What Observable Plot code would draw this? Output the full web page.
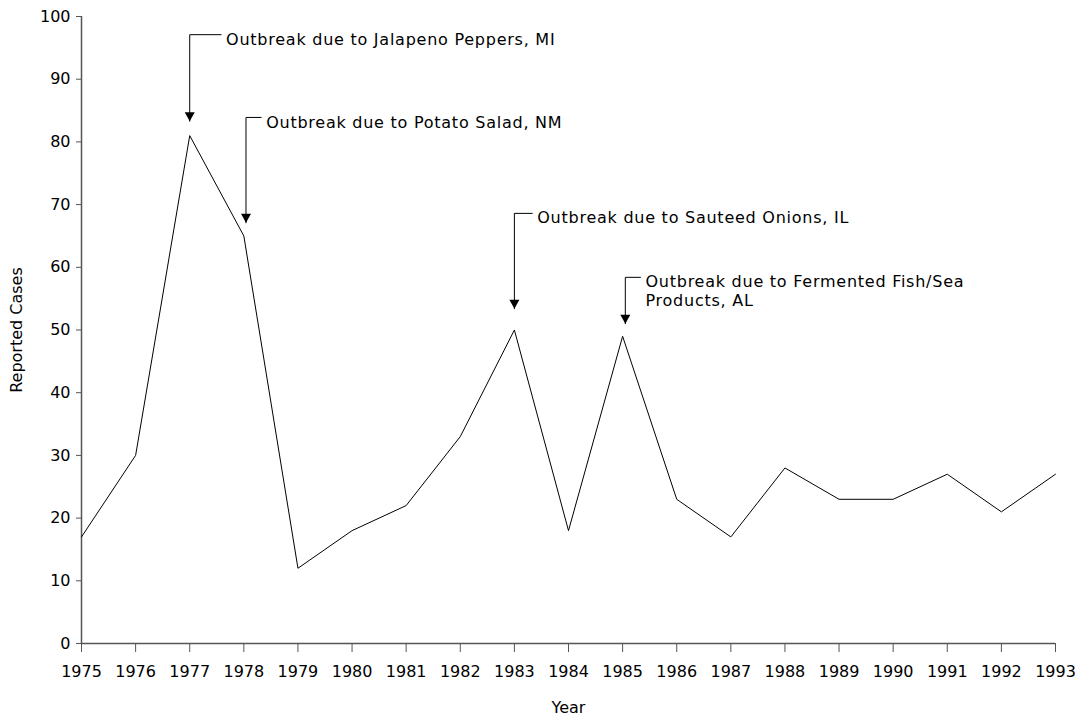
<!DOCTYPE html>
<html>
<head>
<meta charset="utf-8">
<script src="https://cdn.jsdelivr.net/npm/d3@7"></script>
<script src="https://cdn.jsdelivr.net/npm/@observablehq/plot@0.6"></script>
<style>
  html, body { margin: 0; padding: 0; background: #fff; }
  #chart { width: 1081px; height: 719px; }
  #chart g[aria-label="text"] { letter-spacing: 0.75px; }
</style>
</head>
<body>
<div id="chart"></div>
<script>
// Data
const years = [1975,1976,1977,1978,1979,1980,1981,1982,1983,1984,1985,1986,1987,1988,1989,1990,1991,1992,1993];
const cases = [17,30,81,65,12,18,22,33,50,18,49,23,17,28,23,23,27,21,27];
const yTicks = [0,10,20,30,40,50,60,70,80,90,100];

// Annotations
const annYear  = [1977, 1978.04, 1983, 1985.05];
const annElbow = [97.1, 83.9, 68.6, 58.4];
const annTip   = [83.3, 67.1, 53.4, 51.0];
const annEnd   = [1977.58, 1978.32, 1983.33, 1985.33];
const annLabel = [
  "Outbreak due to Jalapeno Peppers, MI",
  "Outbreak due to Potato Salad, NM",
  "Outbreak due to Sauteed Onions, IL",
  "Outbreak due to Fermented Fish/Sea\nProducts, AL"
];

const series = years.map((y, i) => ({year: y, cases: cases[i]}));
const ann = annYear.map((y, i) => ({year: y, elbow: annElbow[i], tip: annTip[i], end: annEnd[i], label: annLabel[i]}));
const leaders = ann.flatMap((a, i) => [
  {k: i, x: a.end, y: a.elbow},
  {k: i, x: a.year, y: a.elbow},
  {k: i, x: a.year, y: a.tip}
]);

const downTriangle = {
  draw(ctx) {
    ctx.moveTo(0, 0);
    ctx.lineTo(-5, -9);
    ctx.lineTo(5, -9);
    ctx.closePath();
  }
};

const axisColor = "#555";

const chart = Plot.plot({
  width: 1081,
  height: 719,
  marginLeft: 81,
  marginRight: 26,
  marginTop: 16,
  marginBottom: 76,
  style: {fontFamily: "DejaVu Sans", fontSize: "16px", color: "#000", background: "#fff"},
  x: {domain: [1975, 1993]},
  y: {domain: [0, 100]},
  marks: [
    Plot.axisX({ticks: years, tickFormat: d => String(d), tickSize: 9, tickPadding: 13, stroke: axisColor, fill: "#000", label: "Year", labelAnchor: "center", labelOffset: 69, labelArrow: "none", fontSize: 16}),
    Plot.axisY({ticks: yTicks, tickSize: 5, tickPadding: 6, stroke: axisColor, fill: "#000", label: "Reported Cases", labelAnchor: "center", labelOffset: 71, labelArrow: "none", fontSize: 16}),
    Plot.ruleY([0], {x1: 1975, x2: 1993, stroke: axisColor, strokeWidth: 1.5}),
    Plot.ruleX([1975], {y1: 0, y2: 100, stroke: axisColor, strokeWidth: 1.5}),
    Plot.line(series, {x: "year", y: "cases", stroke: "#000", strokeWidth: 1}),
    Plot.line(leaders, {x: "x", y: "y", z: "k", stroke: "#000", strokeWidth: 1}),
    Plot.dot(ann, {x: "year", y: "tip", symbol: downTriangle, fill: "#000", stroke: "none"}),
    Plot.text(ann, {x: "end", y: "elbow", text: "label", textAnchor: "start", lineAnchor: "top", dx: 5, dy: -3, fontSize: 16, lineHeight: 1.15, fill: "#000"})
  ]
});
document.getElementById("chart").appendChild(chart);
</script>
</body>
</html>
